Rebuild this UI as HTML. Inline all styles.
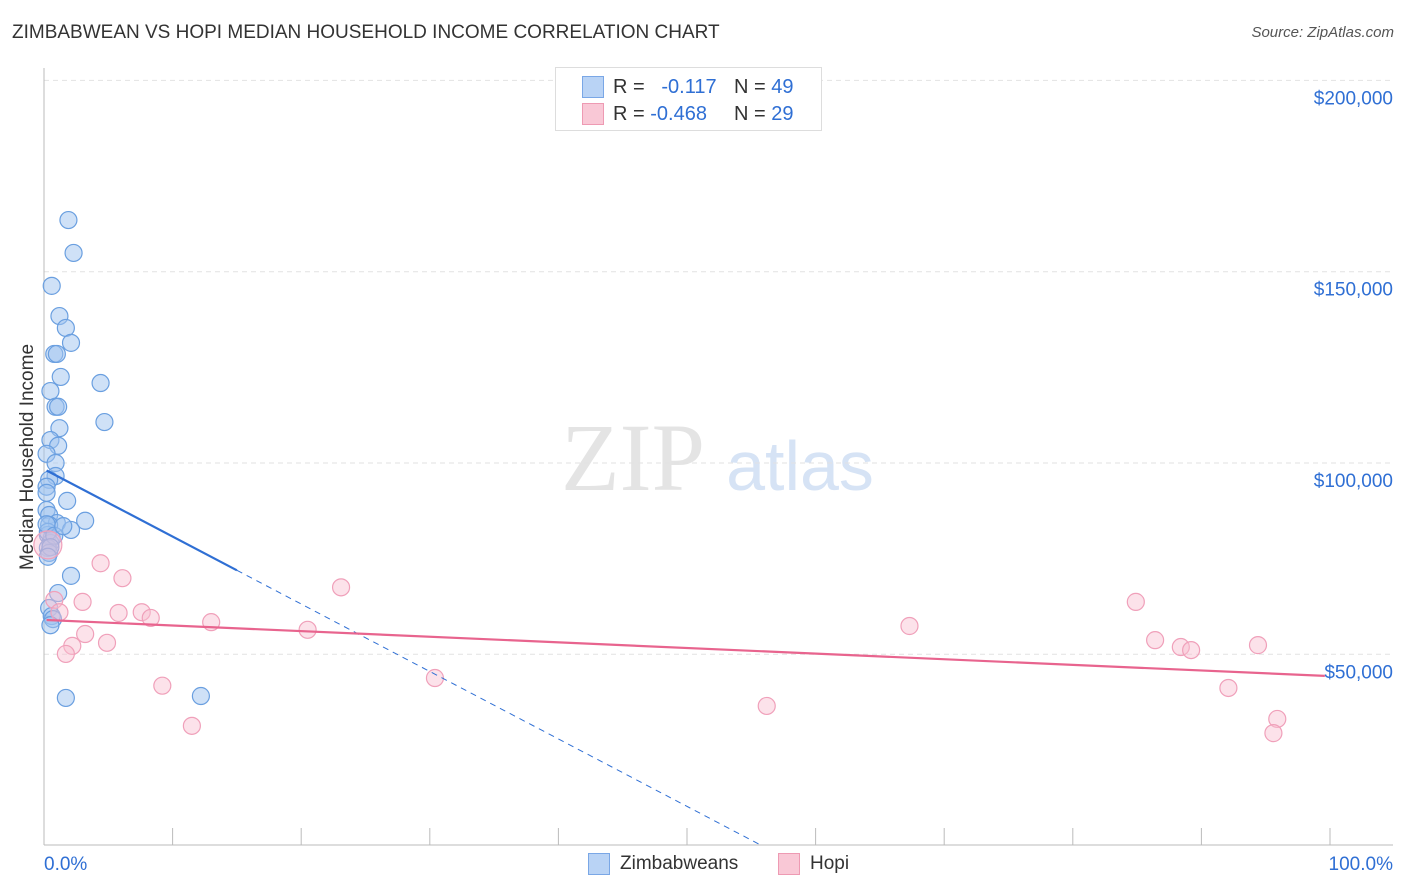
<!DOCTYPE html>
<html><head><meta charset="utf-8">
<style>
body{margin:0;background:#fff;font-family:"Liberation Sans",sans-serif;}
#wrap{position:relative;width:1406px;height:892px;overflow:hidden;}
.t{position:absolute;white-space:nowrap;}
</style></head><body>
<div id="wrap">
<div class="t" style="left:12px;top:22px;font-size:19px;color:#333;">ZIMBABWEAN VS HOPI MEDIAN HOUSEHOLD INCOME CORRELATION CHART</div>
<div class="t" style="right:12px;top:24px;font-size:15px;color:#555;font-style:italic;">Source: ZipAtlas.com</div>
<svg id="svg" width="1406" height="892" style="position:absolute;left:0;top:0"></svg>
<div class="t" style="left:28px;top:457px;font-size:19px;color:#333;transform:translate(-50%,-50%) rotate(-90deg);">Median Household Income</div>
<div style="position:absolute;left:555px;top:67px;width:265px;height:62px;border:1px solid #ddd;background:#fff;font-size:20px;">
 <div style="position:absolute;left:26px;top:8px;width:20px;height:20px;background:#b9d3f5;border:1px solid #7aa7e6;"></div>
 <div class="t" style="left:57px;top:8px;color:#333;">R = &nbsp;&nbsp;<span style="color:#2f6fd4">-0.117</span></div>
 <div class="t" style="left:178px;top:8px;color:#333;">N = <span style="color:#2f6fd4">49</span></div>
 <div style="position:absolute;left:26px;top:35px;width:20px;height:20px;background:#f9c8d6;border:1px solid #ee9ab3;"></div>
 <div class="t" style="left:57px;top:35px;color:#333;">R = <span style="color:#2f6fd4">-0.468</span></div>
 <div class="t" style="left:178px;top:35px;color:#333;">N = <span style="color:#2f6fd4">29</span></div>
</div>
<div style="position:absolute;left:588px;top:853px;">
 <div style="position:absolute;left:0;top:0;width:20px;height:20px;background:#b9d3f5;border:1px solid #7aa7e6;"></div>
 <div class="t" style="left:32px;top:0;font-size:19px;color:#333;">Zimbabweans</div>
</div>
<div style="position:absolute;left:778px;top:853px;">
 <div style="position:absolute;left:0;top:0;width:20px;height:20px;background:#f9c8d6;border:1px solid #ee9ab3;"></div>
 <div class="t" style="left:32px;top:0;font-size:19px;color:#333;">Hopi</div>
</div>
</div>
<script>
const yTicks=[50000,100000,150000,200000];
const yTickLabels=["$50,000","$100,000","$150,000","$200,000"];
const xTickLabels=["0.0%","100.0%"];
const blueX=[1.9,2.3,0.6,1.2,1.7,2.1,0.8,1.0,1.3,4.4,0.5,0.9,1.1,4.7,1.2,0.5,1.1,0.2,0.9,0.9,0.4,0.2,0.2,1.8,0.2,0.4,3.2,1.0,0.4,2.1,0.3,0.6,0.5,0.3,0.4,2.1,1.1,0.4,0.6,0.7,0.5,1.7,12.2,0.3,0.2,0.8,0.5,1.5,0.3];
const blueY=[163.5,154.9,146.3,138.4,135.3,131.4,128.5,128.5,122.5,120.9,118.8,114.7,114.7,110.7,109.1,106.0,104.5,102.4,100.0,96.6,95.6,93.8,92.2,90.1,87.7,86.4,84.9,84.3,83.8,82.5,81.2,80.4,79.1,77.8,76.5,70.5,66.0,62.1,60.0,59.2,57.6,38.6,39.1,82.0,84.0,81.0,78.0,83.5,75.5];
const pinkX=[0.3,4.4,6.1,23.1,3.0,0.8,1.2,5.8,7.6,8.3,13.0,3.2,20.5,67.3,84.9,2.2,4.9,1.7,86.4,88.4,89.2,94.4,9.2,30.4,92.1,11.5,56.2,95.9,95.6];
const pinkY=[78.6,73.8,69.9,67.5,63.7,64.2,61.0,60.8,61.0,59.5,58.4,55.3,56.4,57.4,63.7,52.2,53.0,50.1,53.7,51.9,51.1,52.4,41.8,43.8,41.2,31.3,36.5,33.1,29.4];
const blueLine=[98.4,-1.763]; // intercept (k), slope per %
const pinkLine=[59.0,-0.147];
const NS="http://www.w3.org/2000/svg";
const svg=document.getElementById('svg');
const X=p=>44+p*12.86;
const Y=k=>845.6-k*1000/50000*191.3;
function el(tag,attrs){const e=document.createElementNS(NS,tag);for(const k in attrs)e.setAttribute(k,attrs[k]);svg.appendChild(e);return e;}
// watermark
let w=el('text',{x:633,y:490,'font-size':96,'font-family':'Liberation Serif',fill:'#e4e4e4','text-anchor':'middle'});w.textContent='ZIP';


let w2=el('text',{x:800,y:490,'font-size':70,'font-family':'Liberation Sans',fill:'#d6e3f5','text-anchor':'middle'});w2.textContent='atlas';


yTicks.forEach((v,i)=>{
 const g=el('line',{x1:44,x2:1393,y1:Y(v/1000),y2:Y(v/1000),stroke:'#e2e2e2','stroke-dasharray':'5,4'});
 
 
 const t=el('text',{x:1393,y:Y(v/1000)+24,'font-size':19,fill:'#2f6fd4','text-anchor':'end','font-family':'Liberation Sans'});
 t.textContent=yTickLabels[i];
 
 
});
let ax=el('line',{x1:44,x2:44,y1:68,y2:845,stroke:'#bbb'});


let bx=el('line',{x1:44,x2:1393,y1:845,y2:845,stroke:'#bbb'});


for(let i=0;i<=10;i++){const tk=el('line',{x1:X(i*10),x2:X(i*10),y1:828,y2:845,stroke:'#bbb'});
 
 }
xTickLabels.forEach((s,i)=>{const t=el('text',{x:i?1393:44,y:870,'font-size':19,fill:'#2f6fd4','text-anchor':i?'end':'start','font-family':'Liberation Sans'});t.textContent=s;
 
 });
blueX.forEach((x,i)=>{const c=el('circle',{cx:X(x),cy:Y(blueY[i]),r:8.5,fill:'rgba(160,196,240,0.5)',stroke:'#6a9fe0','stroke-width':1.2});
 
 });
pinkX.forEach((x,i)=>{const c=el('circle',{cx:X(x),cy:Y(pinkY[i]),r:i===0?14:8.5,fill:'rgba(248,190,208,0.45)',stroke:'#f0a0ba','stroke-width':1.2});
 
 });
const bl=x=>blueLine[0]+blueLine[1]*x;
let l1=el('line',{x1:X(0.2),y1:Y(bl(0.2)),x2:X(15),y2:Y(bl(15)),stroke:'#2f6fd4','stroke-width':2.2});


const x0=-blueLine[0]/blueLine[1];
let l2=el('line',{x1:X(15),y1:Y(bl(15)),x2:X(x0),y2:Y(0),stroke:'#2f6fd4','stroke-width':1,'stroke-dasharray':'6,5'});


const pl=x=>pinkLine[0]+pinkLine[1]*x;
let l3=el('line',{x1:X(0.2),y1:Y(pl(0.2)),x2:X(99.6),y2:Y(pl(99.6)),stroke:'#e8648e','stroke-width':2.2});


</script>
</body></html>
